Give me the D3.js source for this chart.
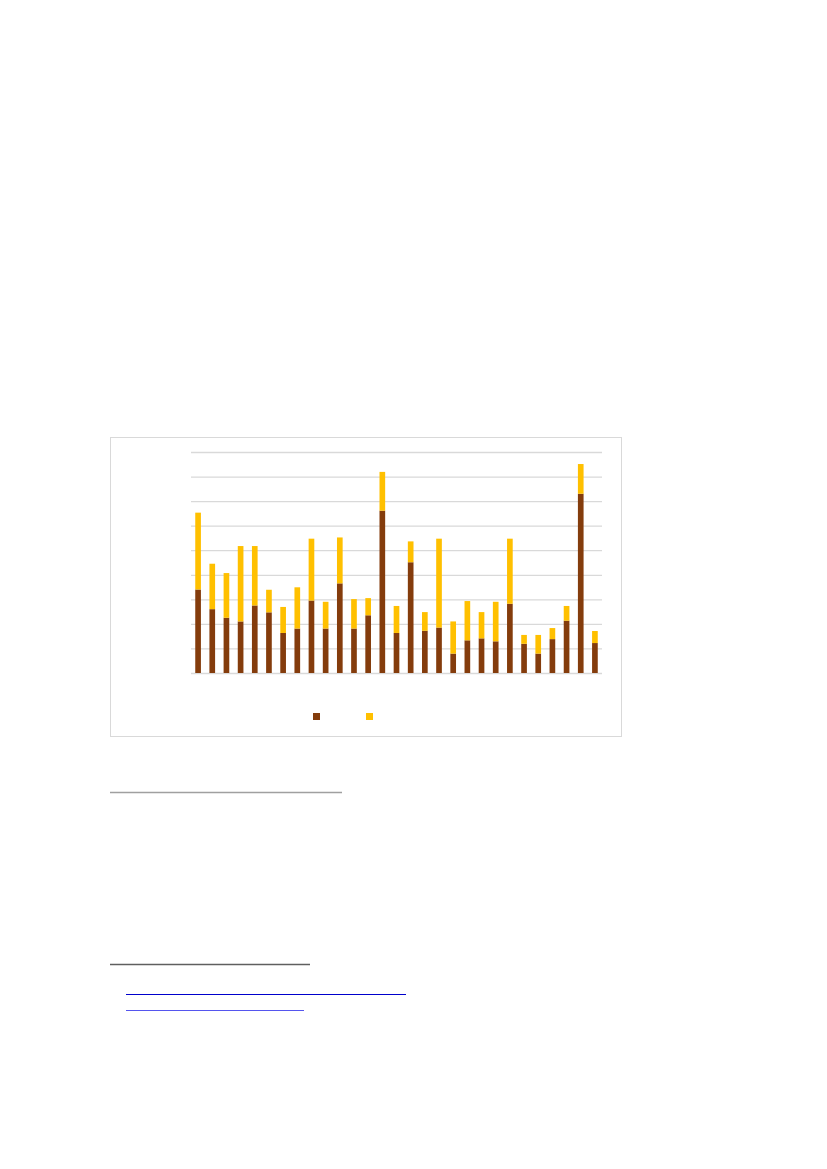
<!DOCTYPE html>
<html>
<head>
<meta charset="utf-8">
<script src="https://cdn.jsdelivr.net/npm/d3@7"></script>
<style>
  html, body { margin: 0; padding: 0; background: #fff; }
  svg { display: block; }
</style>
</head>
<body>
<div id="page"></div>
<script>
// values (one grid step = 10)
const categories = d3.range(1, 30).map(String);
const seriesNames = ["A", "B"];
const lowerValues = [34, 26, 22.5, 21, 27.5, 24.7, 16.3, 18.1, 29.5, 18.1, 36.5, 18.1, 23.5, 66.1, 16.3, 45.1, 17.2, 18.5, 7.9, 13.3, 14.1, 12.9, 28.2, 11.9, 7.9, 13.8, 21.3, 73, 12.2];
const upperValues = [31.3, 18.5, 18.2, 30.7, 24.2, 9.2, 10.6, 16.8, 25.2, 10.9, 18.7, 12, 7, 15.8, 11, 8.5, 7.6, 36.2, 13.1, 16, 10.7, 16.1, 26.5, 3.6, 7.6, 4.5, 6, 12.1, 4.9];
const yTicks = [0, 10, 20, 30, 40, 50, 60, 70, 80, 90];

const colors = ["#843c0c", "#ffc000"];

const W = 827, H = 1169;
const svg = d3.select("#page").append("svg")
    .attr("width", W)
    .attr("height", H);

/* chart frame */
const frame = {x: 110.5, y: 437.5, w: 511, h: 299};
svg.append("rect")
    .attr("x", frame.x).attr("y", frame.y)
    .attr("width", frame.w).attr("height", frame.h)
    .attr("fill", "#fff")
    .attr("stroke", "#d9d9d9")
    .attr("stroke-width", 1);

const plot = {left: 191, right: 602, top: 452, bottom: 673};

var xScale = d3.scaleBand()
    .domain(categories)
    .range([plot.left, plot.right])
    .paddingInner(0.6)
    .paddingOuter(0.3);

var yScale = d3.scaleLinear()
    .domain([0, 90])
    .range([plot.bottom, plot.top]);

/* gridlines */
var yAxis = d3.axisLeft(yScale)
    .tickValues(yTicks)
    .tickSize(-(plot.right - plot.left))
    .tickFormat("");

const grid = svg.append("g")
    .attr("transform", `translate(${plot.left}, 0)`)
    .call(yAxis);
grid.select(".domain").remove();
grid.selectAll(".tick line")
    .attr("stroke", "#d9d9d9")
    .attr("stroke-width", 1.3);

/* stacked bars */
const rows = categories.map((c, i) => ({cat: c, A: lowerValues[i], B: upperValues[i]}));
const stacked = d3.stack().keys(seriesNames)(rows);

svg.append("g").selectAll("g")
    .data(stacked).enter()
    .append("g")
    .attr("fill", (d, i) => colors[i])
    .selectAll("rect")
    .data(d => d).enter()
    .append("rect")
    .attr("x", d => xScale(d.data.cat))
    .attr("y", d => yScale(d[1]))
    .attr("width", xScale.bandwidth())
    .attr("height", d => yScale(d[0]) - yScale(d[1]));

/* legend markers */
const legend = svg.append("g")
    .attr("transform", "translate(313, 713)");
legend.selectAll("rect")
    .data(seriesNames).enter()
    .append("rect")
    .attr("x", (d, i) => i * 53)
    .attr("y", 0)
    .attr("width", 7)
    .attr("height", 7)
    .attr("fill", (d, i) => colors[i]);

/* page rules below the chart */
const rules = [
    {x1: 110, x2: 342, y: 792.5, color: "#a0a0a0", w: 1.3},
    {x1: 110, x2: 310, y: 964.5, color: "#5f5f5f", w: 1.3},
    {x1: 126, x2: 406, y: 994.5, color: "#0000cc", w: 1.2},
    {x1: 126, x2: 304, y: 1010.5, color: "#5555ee", w: 1.2}
];
svg.append("g").selectAll("line")
    .data(rules).enter()
    .append("line")
    .attr("x1", d => d.x1).attr("x2", d => d.x2)
    .attr("y1", d => d.y).attr("y2", d => d.y)
    .attr("stroke", d => d.color)
    .attr("stroke-width", d => d.w);
</script>
</body>
</html>
